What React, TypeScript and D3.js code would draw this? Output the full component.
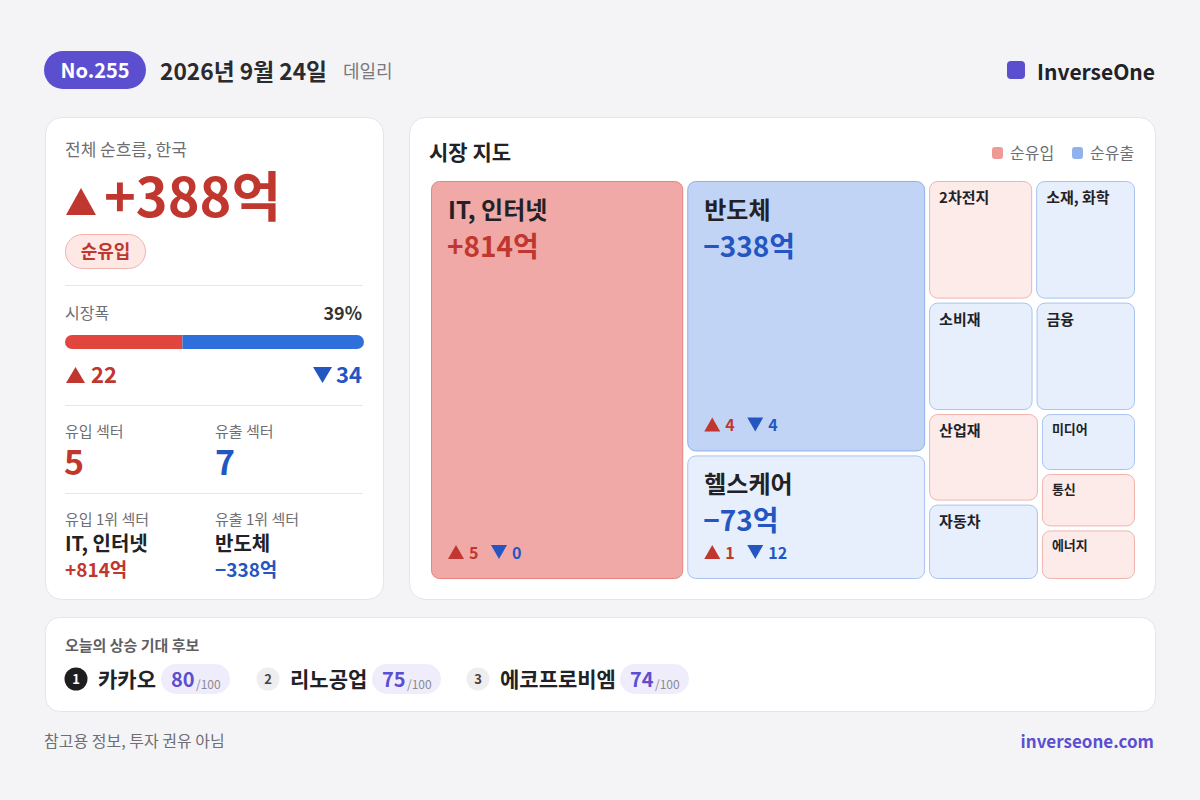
import React from 'react';
import * as d3 from 'd3';

// ---- data ----
const issueNo = 'No.255';
const dateLabel = '2026년 9월 24일';
const brand = 'InverseOne';
const totalNet = 388;
const advancers = 22;
const decliners = 34;
const inflowSectorCount = 5;
const outflowSectorCount = 7;

const sectorNames = ['IT, 인터넷', '반도체', '헬스케어', '2차전지', '소재, 화학', '소비재', '금융', '산업재', '자동차', '미디어', '통신', '에너지'];
const sectorFlows = [814, -338, -73, 13, -12, -11, -10, 8, -6, -2.6, 2.3, 2];
const sectorUp = [5, 4, 1, 0, 0, 0, 0, 0, 0, 0, 0, 0];
const sectorDown = [0, 4, 12, 0, 0, 0, 0, 0, 0, 0, 0, 0];

const candidateNames = ['카카오', '리노공업', '에코프로비엠'];
const candidateScores = [80, 75, 74];

// ---- style ----
const FONT = '"Noto Sans CJK KR", "Noto Sans", sans-serif';
const RED = '#c0372f';
const BLUE = '#2456c2';
const PURPLE = '#5b4fd0';
const GRAY = '#6e6e73';
const DARK = '#222226';

const TM = { x: 431, y: 181, w: 704, h: 398 };

function UpTri({ x, y, w, h, fill }: { x: number; y: number; w: number; h: number; fill: string }) {
  const p = d3.path();
  p.moveTo(x, y + h); p.lineTo(x + w / 2, y); p.lineTo(x + w, y + h); p.closePath();
  return <path d={p.toString()} fill={fill} />;
}
function DownTri({ x, y, w, h, fill }: { x: number; y: number; w: number; h: number; fill: string }) {
  const p = d3.path();
  p.moveTo(x, y); p.lineTo(x + w, y); p.lineTo(x + w / 2, y + h); p.closePath();
  return <path d={p.toString()} fill={fill} />;
}

const fmt = (v: number) => (v >= 0 ? '+' : '−') + Math.abs(v) + '억';

export default function App() {
  const leaves = sectorNames.map((name, i) => ({ name, v: sectorFlows[i], up: sectorUp[i], down: sectorDown[i] }));
  const root = d3
    .hierarchy<any>({ children: leaves })
    .sum((d: any) => (d.v !== undefined ? Math.sqrt(Math.abs(d.v)) : 0))
    .sort((a, b) => (b.value || 0) - (a.value || 0));
  d3.treemap<any>().tile(d3.treemapSquarify.ratio(1)).size([TM.w, TM.h]).paddingInner(4)(root);
  const cells = root.leaves() as any[];

  const breadthX = d3.scaleLinear().domain([0, advancers + decliners]).range([65, 364]);
  const pct = Math.round((advancers / (advancers + decliners)) * 100);

  const topIn = leaves.filter((d) => d.v > 0).sort((a, b) => b.v - a.v)[0];
  const topOut = leaves.filter((d) => d.v < 0).sort((a, b) => a.v - b.v)[0];

  const candX = [76, 268, 478];

  return (
    <svg width={1200} height={800} style={{ position: 'absolute', left: 0, top: 0 }} fontFamily={FONT}>
      <rect x={0} y={0} width={1200} height={800} fill="#f4f4f7" />

      {/* header */}
      <rect x={44} y={51} width={102} height={38} rx={19} fill={PURPLE} />
      <text x={95} y={78} textAnchor="middle" fontSize={20} fontWeight={700} fill="#fff">{issueNo}</text>
      <text x={160} y={80} fontSize={23} fontWeight={700} fill="#2b2b2e" textLength={167} lengthAdjust="spacingAndGlyphs">{dateLabel}</text>
      <text x={343} y={78} fontSize={18} fill="#7a7a7e">데일리</text>
      <rect x={1007} y={61} width={18} height={18} rx={4} fill={PURPLE} />
      <text x={1155} y={80} textAnchor="end" fontSize={21} fontWeight={700} fill={DARK}>{brand}</text>

      {/* left card */}
      <rect x={45.5} y={117.5} width={338} height={482} rx={16} fill="#fff" stroke="#e4e4ea" />
      <text x={65} y={156} fontSize={17} fill={GRAY}>전체 순흐름, 한국</text>
      <UpTri x={66} y={188} w={30} h={27} fill={RED} />
      <text x={104} y={217} fontSize={54} fontWeight={700} fill={RED}>{fmt(totalNet)}</text>
      <rect x={65.5} y={234.5} width={80} height={34} rx={17} fill="#fde8e6" stroke="#f2b3ad" />
      <text x={105.5} y={258} textAnchor="middle" fontSize={18} fontWeight={700} fill={RED}>순유입</text>
      <line x1={65} x2={363} y1={285.5} y2={285.5} stroke="#e6e6ea" />

      <text x={65} y={319} fontSize={16} fill={GRAY}>시장폭</text>
      <text x={362} y={320} textAnchor="end" fontSize={18} fontWeight={700} fill="#333">{pct}%</text>
      <clipPath id="barclip"><rect x={65} y={335} width={299} height={14} rx={7} /></clipPath>
      <g clipPath="url(#barclip)">
        <rect x={breadthX(0)} y={335} width={breadthX(advancers) - breadthX(0)} height={14} fill="#e0463e" />
        <rect x={breadthX(advancers)} y={335} width={breadthX(advancers + decliners) - breadthX(advancers)} height={14} fill="#2f6fdc" />
      </g>
      <UpTri x={66} y={367} w={19} h={16} fill={RED} />
      <text x={91} y={383} fontSize={22} fontWeight={700} fill={RED}>{advancers}</text>
      <DownTri x={313} y={367} w={19} h={16} fill={BLUE} />
      <text x={362} y={383} textAnchor="end" fontSize={22} fontWeight={700} fill={BLUE}>{decliners}</text>
      <line x1={65} x2={363} y1={405.5} y2={405.5} stroke="#e6e6ea" />

      <text x={65} y={437} fontSize={15} fill={GRAY}>유입 섹터</text>
      <text x={215} y={437} fontSize={15} fill={GRAY}>유출 섹터</text>
      <text x={64} y={475} fontSize={34} fontWeight={700} fill={RED}>{inflowSectorCount}</text>
      <text x={215} y={475} fontSize={34} fontWeight={700} fill={BLUE}>{outflowSectorCount}</text>
      <line x1={65} x2={363} y1={493.5} y2={493.5} stroke="#e6e6ea" />

      <text x={65} y={525} fontSize={15} fill={GRAY}>유입 1위 섹터</text>
      <text x={215} y={525} fontSize={15} fill={GRAY}>유출 1위 섹터</text>
      <text x={65} y={551} fontSize={20} fontWeight={700} fill={DARK}>{topIn.name}</text>
      <text x={215} y={551} fontSize={20} fontWeight={700} fill={DARK}>{topOut.name}</text>
      <text x={65} y={577} fontSize={19} fontWeight={700} fill={RED}>{fmt(topIn.v)}</text>
      <text x={215} y={577} fontSize={19} fontWeight={700} fill={BLUE}>{fmt(topOut.v)}</text>

      {/* right card */}
      <rect x={409.5} y={117.5} width={746} height={482} rx={16} fill="#fff" stroke="#e4e4ea" />
      <text x={429} y={160} fontSize={21} fontWeight={700} fill={DARK}>시장 지도</text>
      <rect x={992} y={147} width={11} height={12} rx={3} fill="#ee9a95" />
      <text x={1010} y={159} fontSize={16} fill={GRAY}>순유입</text>
      <rect x={1072} y={147} width={11} height={12} rx={3} fill="#8fb1ee" />
      <text x={1090} y={159} fontSize={16} fill={GRAY}>순유출</text>

      <g transform={`translate(${TM.x},${TM.y})`}>
        {cells.map((c, i) => {
          const d = c.data;
          const w = c.x1 - c.x0;
          const h = c.y1 - c.y0;
          const pos = d.v >= 0;
          const strong = Math.abs(d.v) >= 100;
          const fill = pos ? (strong ? '#f0a9a6' : '#fdebea') : strong ? '#c2d4f5' : '#e8effc';
          const stroke = pos ? (strong ? '#e8837c' : '#f2b2ac') : strong ? '#8eb0ea' : '#a8c3f1';
          const big = w > 200 && h > 100;
          return (
            <g key={i} transform={`translate(${c.x0},${c.y0})`}>
              <rect x={0.5} y={0.5} width={w - 1} height={h - 1} rx={8} fill={fill} stroke={stroke} />
              {big ? (
                <>
                  <text x={17} y={38} fontSize={24} fontWeight={700} fill={DARK}>{d.name}</text>
                  <text x={16} y={76} fontSize={28} fontWeight={700} fill={pos ? RED : BLUE}>{fmt(d.v)}</text>
                  <UpTri x={17} y={h - 34} w={16} h={14} fill={RED} />
                  <text x={38} y={h - 20} fontSize={16} fontWeight={700} fill={RED}>{d.up}</text>
                  <DownTri x={60} y={h - 34} w={16} h={14} fill={BLUE} />
                  <text x={81} y={h - 20} fontSize={16} fontWeight={700} fill={BLUE}>{d.down}</text>
                </>
              ) : (
                <text x={10} y={h > 70 ? 22 : 20} fontSize={h > 70 ? 15 : 13} fontWeight={700} fill={DARK}>{d.name}</text>
              )}
            </g>
          );
        })}
      </g>

      {/* candidates card */}
      <rect x={45.5} y={617.5} width={1110} height={94} rx={14} fill="#fff" stroke="#e4e4ea" />
      <text x={65} y={651} fontSize={15} fontWeight={700} fill="#5f5f63">오늘의 상승 기대 후보</text>
      {candidateNames.map((n, i) => {
        const cx = candX[i];
        const px = cx + 22 + n.length * 19 + 6;
        return (
          <g key={n}>
            <circle cx={cx} cy={679} r={11.5} fill={i === 0 ? '#1e1e20' : '#eeeef0'} />
            <text x={cx} y={684} textAnchor="middle" fontSize={13} fontWeight={700} fill={i === 0 ? '#fff' : '#444'}>{i + 1}</text>
            <text x={cx + 22} y={687} fontSize={21} fontWeight={700} fill={DARK}>{n}</text>
            <rect x={px} y={664} width={69} height={30} rx={15} fill="#efedfc" />
            <text x={px + 10} y={687} fontSize={20} fontWeight={700} fill={PURPLE}>{candidateScores[i]}</text>
            <text x={px + 35} y={689} fontSize={12} fill="#8a8a8e">/100</text>
          </g>
        );
      })}

      {/* footer */}
      <text x={44} y={747} fontSize={16} fill={GRAY}>참고용 정보, 투자 권유 아님</text>
      <text x={1154} y={748} textAnchor="end" fontSize={17} fontWeight={700} fill={PURPLE}>inverseone.com</text>
    </svg>
  );
}
